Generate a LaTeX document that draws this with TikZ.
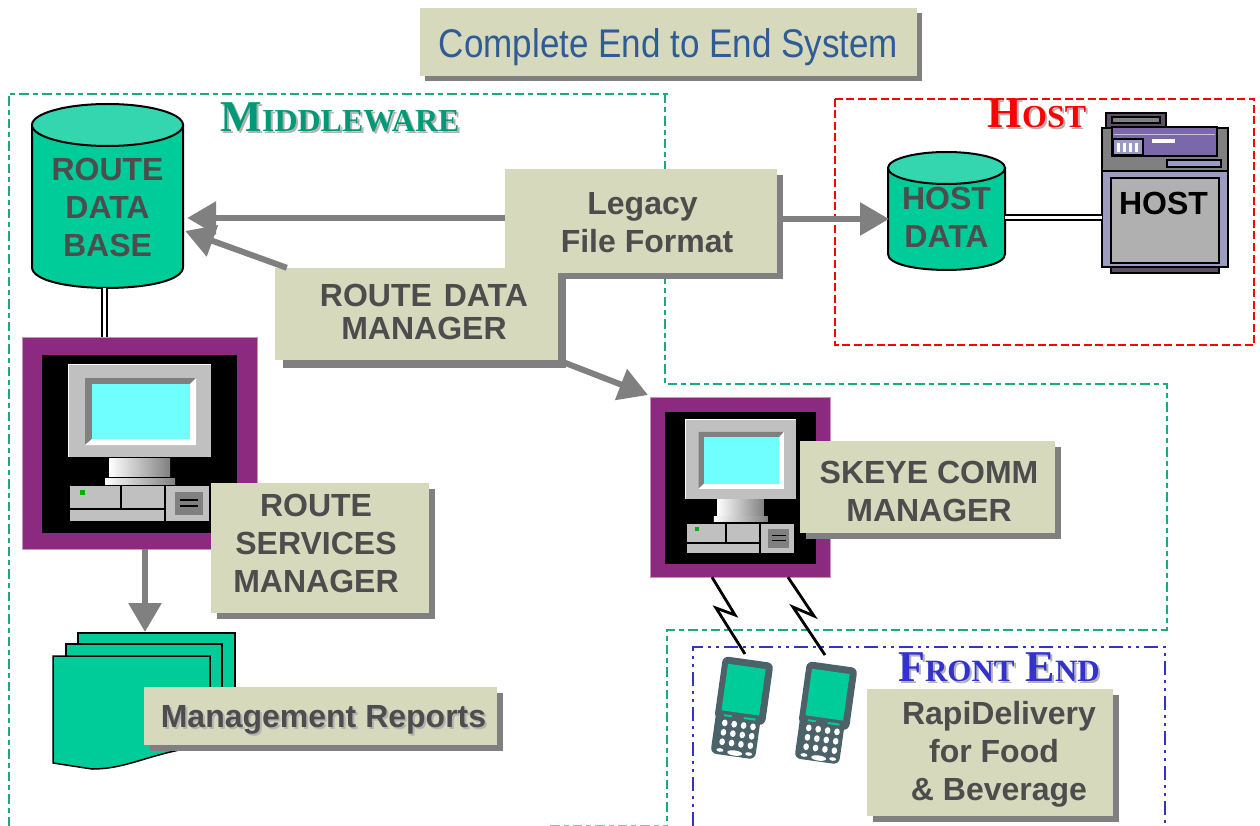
\documentclass[tikz,border=0pt]{standalone}
\usepackage{fontspec}
\usepackage{graphicx}
\setmainfont{Liberation Sans}
\newfontfamily\headfont{Liberation Serif}
\usetikzlibrary{arrows.meta,shadows}

\definecolor{boxfill}{HTML}{D6D9BC}
\definecolor{boxtext}{HTML}{4D4D4D}
\definecolor{shadowgray}{HTML}{808080}
\definecolor{seagreen}{HTML}{00CC99}
\definecolor{sealight}{HTML}{33D6AE}
\definecolor{midgreen}{HTML}{009977}
\definecolor{edgegreen}{HTML}{1BA97F}
\definecolor{titleblue}{HTML}{2E5C96}
\definecolor{frontblue}{HTML}{3333CC}
\definecolor{pcpurple}{HTML}{8B2A7E}
\definecolor{pcgray}{HTML}{C0C0C0}
\definecolor{pcscreen}{HTML}{70FFFF}
\definecolor{hostlilac}{HTML}{9C9CC0}
\definecolor{hostpurple}{HTML}{7B68AA}
\definecolor{hostdark}{HTML}{5C4F66}
\definecolor{hostface}{HTML}{B0B0B0}
\definecolor{phonegray}{HTML}{4A6268}

\tikzset{
  labelbox/.style={fill=boxfill,text=boxtext,font=\fontsize{32}{38}\selectfont\bfseries,
    inner sep=0pt,
    drop shadow={shadow xshift=#1,shadow yshift=-#1,opacity=1,fill=shadowgray}},
  labelbox/.default=6pt,
  dbtext/.style={text=boxtext,inner sep=0pt,font=\fontsize{32}{38}\selectfont\bfseries},
  grayarrow/.style={draw=shadowgray,line width=6pt,-{Triangle[length=29pt,width=32pt]}},
  twinline/.style={draw=black,double=white,line width=2pt,double distance=3pt},
  zigline/.style={draw=black,line width=2.8pt},
  hdr/.style={font=\headfont\bfseries,inner sep=0pt},
  greendash/.style={edgegreen,line width=2pt,dash pattern=on 9.5pt off 4pt on 5pt off 4pt}
}

% text block placed by its offset from the middle of its node
\newcommand{\lbl}[3]{\hspace*{#1}\raisebox{\dimexpr-#2-9.4pt}[0pt][0pt]{\makebox[0pt]{%
  \begin{tabular}[c]{@{}c@{}}#3\end{tabular}}}}
% shadowed heading: capital, small capitals
\newcommand{\headtext}[4]{\fontsize{#1}{#1}\selectfont #3{\fontsize{#2}{#2}\selectfont #4}}
\newcommand{\shadowtext}[2]{\leavevmode\rlap{\kern2pt\raisebox{-2pt}{\color{black!30}#2}}{\color{#1}#2}}

% one database drum: middle x, top y, bottom y, half width, end height
\newcommand{\dbdrum}[5]{%
  \draw[fill=seagreen,line width=2pt] ({#1-#4},{#2}) -- ({#1-#4},{#3})
    .. controls ({#1-#4},{#3+1.33*#5}) and ({#1+#4},{#3+1.33*#5}) .. ({#1+#4},{#3}) -- ({#1+#4},{#2}) -- cycle;
  \draw[fill=sealight,line width=2pt] (#1,#2) ellipse ({#4 pt} and {#5 pt});}

% one computer, 235 by 212 at scale 1
\newcommand{\pcicon}[3]{%
  \begin{scope}[shift={#1},xscale=#2,yscale=#3]
    \fill[black] (20,18) rectangle (215,196);
    \fill[pcgray] (46,27) rectangle (189,120);
    \draw[white,line width=1pt] (46,120) -- (46,27) -- (189,27);
    \fill[shadowgray] (63,41) -- (174,41) -- (168,47) -- (70,102) -- (63,108) -- cycle;
    \fill[white] (174,41) -- (174,108) -- (63,108) -- (70,102) -- (168,102) -- (168,47) -- cycle;
    \fill[pcscreen] (70,47) rectangle (168,102);
    \shade[left color=white,right color=shadowgray] (87,121) rectangle (148,139);
    \shade[left color=white,right color=shadowgray] (83,141) rectangle (153,147);
    \fill[pcgray] (48,149) rectangle (98,171);
    \fill[green!70!black] (58,153) rectangle (63,158);
    \fill[pcgray] (100,149) rectangle (142,171);
    \fill[pcgray] (48,173) rectangle (142,184);
    \fill[pcgray] (144,149) rectangle (187,184);
    \fill[shadowgray] (153,155) rectangle (181,178);
    \draw[black,line width=1.5pt] (158,163) -- (176,163) (158,169) -- (176,169);
  \end{scope}}

% one handset, drawn round its centre
\newcommand{\phoneicon}[1]{%
  \begin{scope}[shift={#1},rotate=-8]
    \fill[phonegray,rounded corners=6pt] (-25,-49) rectangle (26,14);
    \fill[phonegray,rounded corners=6pt] (-24,0) rectangle (21,49);
    \fill[seagreen] (-19,-42) rectangle (19,5);
    \fill[seagreen] (-16,8.5) rectangle (-8,10.5) (4,8.5) rectangle (16,10.5);
    \foreach \row in {0,1,2} {
      \foreach \col in {0,1,2,3} {
        \fill[white] ({-14+\col*9.5},{17+\row*9.5}) ellipse (2.8pt and 3.4pt);
      }
    }
    \fill[white] (0,45.5) ellipse (7.5pt and 2.6pt);
    \fill[white] (-15,44.5) ellipse (3.5pt and 1.8pt);
    \fill[white] (14,44.5) ellipse (3.5pt and 1.8pt);
  \end{scope}}

\begin{document}
\begin{tikzpicture}[x=1pt,y=-1pt]
  \useasboundingbox (0,0) rectangle (1260,826);

  % dashed regions
  \draw[greendash] (9,826) -- (9,94) -- (670,94);
  \draw[greendash] (665,94) -- (665,384) -- (1167,384) -- (1167,630) -- (667,630) -- (667,826);
  \draw[greendash,edgegreen!60] (550,825.5) -- (667,825.5);
  \draw[red,line width=2pt,dash pattern=on 8pt off 3.5pt] (835,99) rectangle (1254,345);
  \draw[frontblue,line width=2pt,dash pattern=on 14pt off 5pt on 3pt off 5pt on 3pt off 5pt]
    (693,826) -- (693,647) -- (1165,647) -- (1165,826);

  % headings
  \node[hdr,anchor=base] (titlemid) at (340,132)
    {\shadowtext{midgreen}{\headtext{44}{32}{M}{IDDLEWARE}}};
  \node[hdr,anchor=base] (titlehost) at (1037,128)
    {\shadowtext{red}{\headtext{44}{32}{H}{OST}}};
  \node[hdr,anchor=base] (titlefront) at (999,681)
    {\shadowtext{frontblue}{\headtext{44}{31}{F}{RONT} \headtext{44}{31}{E}{ND}}};

  \node[fill=boxfill,text=titleblue,minimum width=497pt,minimum height=68pt,inner sep=0pt,
    drop shadow={shadow xshift=5pt,shadow yshift=-5pt,opacity=1,fill=shadowgray},
    font=\fontsize{40}{46}\selectfont] (title) at (668.5,42)
    {\lbl{0pt}{3.5pt}{\scalebox{.875}[1]{Complete End to End System}}};

  % databases
  \dbdrum{107.5}{125}{267}{75.5}{21}
  \node[dbtext,minimum width=151pt,minimum height=184pt] (routedb) at (107.5,196)
    {\lbl{0pt}{12pt}{ROUTE\\DATA\\BASE}};
  \dbdrum{946.5}{168}{254}{58.5}{16}
  \node[dbtext,minimum width=117pt,minimum height=117pt] (hostdb) at (946.5,211)
    {\lbl{0pt}{7pt}{HOST\\DATA}};

  % host machine
  \fill[hostdark,draw=black,line width=2pt] (1106,113) rectangle (1166,128);
  \fill[shadowgray,draw=black,line width=1.5pt] (1112,117) rectangle (1160,123);
  \fill[shadowgray,draw=black,line width=1.5pt] (1102,128) rectangle (1228,171);
  \fill[hostpurple,draw=black,line width=2.5pt] (1112,127) rectangle (1217,156);
  \draw[hostlilac!60,line width=1.5pt] (1114,134.5) -- (1215,134.5);
  \fill[hostlilac,draw=black,line width=2pt] (1113,139) rectangle (1143,155);
  \foreach \barx in {1118,1124,1130,1136} {
    \draw[white,line width=3pt] (\barx,143) -- (\barx,152);
  }
  \fill[white] (1152,139) rectangle (1175,143);
  \fill[hostlilac,draw=black,line width=1.5pt] (1167,160) rectangle (1221,167);
  \fill[hostdark,draw=black,line width=1.5pt] (1111,267) rectangle (1219,273);
  \fill[hostlilac,draw=black,line width=1.5pt] (1102,171) rectangle (1228,267);
  \node[fill=hostface,draw=black,line width=1.5pt,text=black,minimum width=108pt,minimum height=85pt,
    inner sep=0pt,font=\fontsize{32}{38}\selectfont\bfseries] (hostbox) at (1165,220.5)
    {\lbl{-3pt}{-16.5pt}{HOST}};
  \coordinate (hostport) at (1102,217.5);
  \draw[twinline] (hostdb.east |- hostport) -- (hostport);

  % computers
  \node[fill=pcpurple,draw=pcpurple!50,minimum width=235pt,minimum height=212pt,inner sep=0pt] (pcone) at (139.5,443) {};
  \pcicon{(22,337)}{1}{1}
  \node[fill=pcpurple,draw=pcpurple!50,minimum width=180pt,minimum height=180pt,inner sep=0pt] (pctwo) at (740,487) {};
  \pcicon{(650,397)}{.77}{.85}
  \draw[twinline] ([xshift=-3.5pt]routedb.south) -- ([xshift=-3.5pt]routedb.south |- pcone.north);

  % report stack
  \draw[fill=seagreen,draw=black,line width=1.5pt] (78,633) rectangle (235,720);
  \draw[fill=seagreen,draw=black,line width=1.5pt] (66,644) rectangle (222,720);
  \draw[fill=seagreen,draw=black,line width=1.5pt] (53,763) -- (53,656) -- (210,656) -- (210,745)
    .. controls (150,752) and (130,769) .. (92,769) -- cycle;

  % handsets
  \phoneicon{(741,708)}
  \phoneicon{(825,713)}
  \coordinate (phoneone) at (745,654);
  \coordinate (phonetwo) at (825,655);
  \draw[zigline] ([xshift=-28pt]pctwo.south) -- (735,615) -- (716,608) -- (phoneone);
  \draw[zigline] ([xshift=48pt]pctwo.south) -- (814,616) -- (793,607) -- (phonetwo);

  % labels
  \node[labelbox,minimum width=272pt,minimum height=104pt] (legacy) at (641,221)
    {\lbl{12pt}{2pt}{Legacy\kern9pt\\File Format}};
  \node[labelbox=8pt,minimum width=283pt,minimum height=92pt] (rdm) at (416.5,314)
    {\lbl{15pt}{-1.5pt}{ROUTE\kern3pt\ DATA\\[-5pt]MANAGER}};
  \node[labelbox,minimum width=218pt,minimum height=130pt] (rsm) at (320,548)
    {\lbl{-8pt}{-4pt}{ROUTE\\SERVICES\\MANAGER}};
  \node[labelbox,minimum width=255pt,minimum height=92pt] (skeye) at (927.5,487)
    {\lbl{3pt}{5pt}{SKEYE COMM\\MANAGER}};
  \node[labelbox,minimum width=353pt,minimum height=58pt] (reports) at (320.5,716)
    {\lbl{6pt}{1pt}{\shadowtext{boxtext}{Management Reports}}};
  \node[labelbox,minimum width=246pt,minimum height=127pt] (rapi) at (990,752.5)
    {\lbl{18pt}{-0.5pt}{RapiDelivery\\for Food\kern10pt\\\& Beverage}};

  % arrows
  \coordinate (hostin) at (889,219);
  \draw[grayarrow] ([yshift=3pt]legacy.west) -- ([xshift=4pt,yshift=-22pt]routedb.east);
  \draw[grayarrow] ([xshift=12pt]rdm.north west) -- ([xshift=2pt,yshift=-35pt]routedb.east);
  \draw[grayarrow] (rdm.south east) -- (648,395);
  \draw[grayarrow] ([xshift=6pt,yshift=2pt]legacy.east) -- (hostin);
  \draw[grayarrow] ([xshift=5.5pt]pcone.south) -- (145,632);
\end{tikzpicture}
\end{document}
